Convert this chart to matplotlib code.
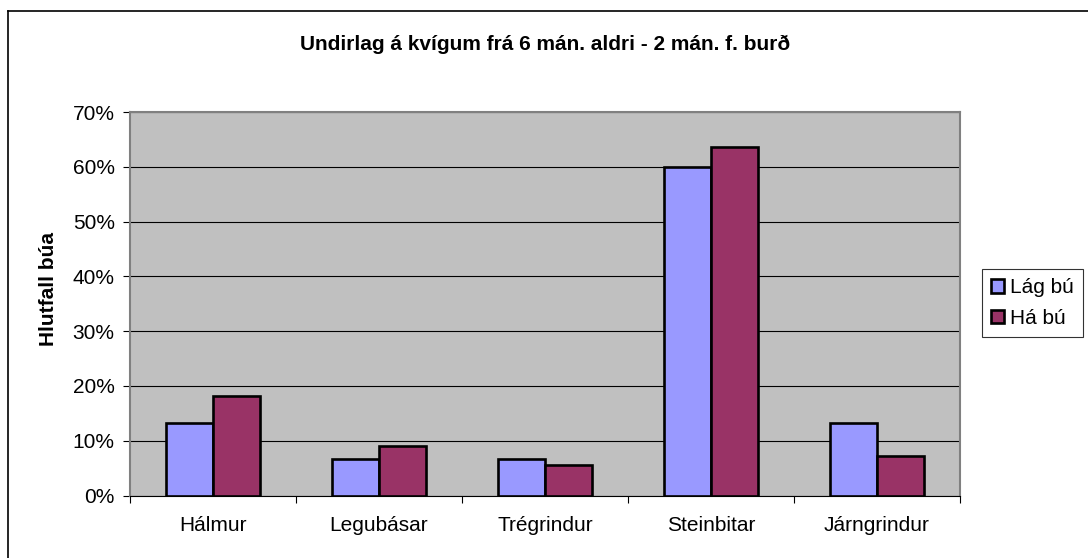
import matplotlib
matplotlib.use("Agg")
import matplotlib.pyplot as plt
import numpy as np
from matplotlib.ticker import FixedLocator, PercentFormatter
from matplotlib.lines import Line2D

plt.rcParams['font.family'] = ['Liberation Sans', 'DejaVu Sans']

categories = ["Hálmur", "Legubásar", "Trégrindur", "Steinbitar", "Járngrindur"]
lag_bu = [13.3, 6.7, 6.7, 60.0, 13.3]
ha_bu = [18.2, 9.1, 5.5, 63.6, 7.3]
series_names = ["Lág bú", "Há bú"]
title = "Undirlag á kvígum frá 6 mán. aldri - 2 mán. f. burð"
ylabel = "Hlutfall búa"

FS = 15
W, H = 1088, 558
fig = plt.figure(figsize=(W / 100, H / 100), dpi=100)
ax = fig.add_axes([130 / W, 1 - 495.5 / H, (960 - 130) / W, (495.5 - 112) / H])
ax.set_facecolor("#C0C0C0")

x = np.arange(len(categories))
bw = 1 / 3.5
ax.bar(x - bw / 2, lag_bu, bw, color="#9999FF", edgecolor="black", linewidth=1.9,
       label=series_names[0], zorder=3)
ax.bar(x + bw / 2, ha_bu, bw, color="#993366", edgecolor="black", linewidth=1.9,
       label=series_names[1], zorder=3)

ax.set_xlim(-0.5, len(categories) - 0.5)
ax.set_ylim(0, 70)
ax.yaxis.set_major_locator(FixedLocator(np.arange(0, 71, 10)))
ax.yaxis.set_major_formatter(PercentFormatter(decimals=0))
ax.yaxis.grid(True, color="black", linewidth=0.8, zorder=1)
ax.set_axisbelow(True)

ax.set_xticks(x)
ax.set_xticklabels(categories, fontsize=FS)
ax.tick_params(axis="x", length=0, pad=15)
ax.set_xticks(np.arange(-0.5, len(categories), 1), minor=True)
ax.tick_params(axis="x", which="minor", length=5, width=0.8, color="black", direction="out")
ax.tick_params(axis="y", length=5, width=0.8, direction="out", labelsize=FS, pad=6)

for s in ["top", "right", "left"]:
    ax.spines[s].set_color("#808080")
    ax.spines[s].set_linewidth(1.5)
ax.spines["bottom"].set_color("black")
ax.spines["bottom"].set_linewidth(0.8)

fig.text(48 / W, 1 - 289 / H, ylabel, rotation=90, ha="center", va="center",
         fontsize=FS, fontweight="bold")
fig.text(0.5 * (130 + 960) / W, 1 - 44 / H, title, ha="center", va="center",
         fontsize=FS, fontweight="bold")

leg = fig.legend(loc="upper left", bbox_to_anchor=(982 / W, 1 - 269 / H),
                 fontsize=FS, frameon=True, fancybox=False, edgecolor="black",
                 handlelength=0.6, handleheight=0.6, handletextpad=0.3,
                 borderpad=0.45, labelspacing=0.55, borderaxespad=0)
leg.get_frame().set_linewidth(0.8)
for h in leg.legend_handles:
    h.set_linewidth(1.9)

# outer chart border (top and left visible)
fig.add_artist(Line2D([8 / W, 1.0], [1 - 11 / H, 1 - 11 / H], color="black", linewidth=1.2))
fig.add_artist(Line2D([8 / W, 8 / W], [1 - 11 / H, 0.0], color="black", linewidth=1.2))

fig.savefig("out.png", dpi=100)
